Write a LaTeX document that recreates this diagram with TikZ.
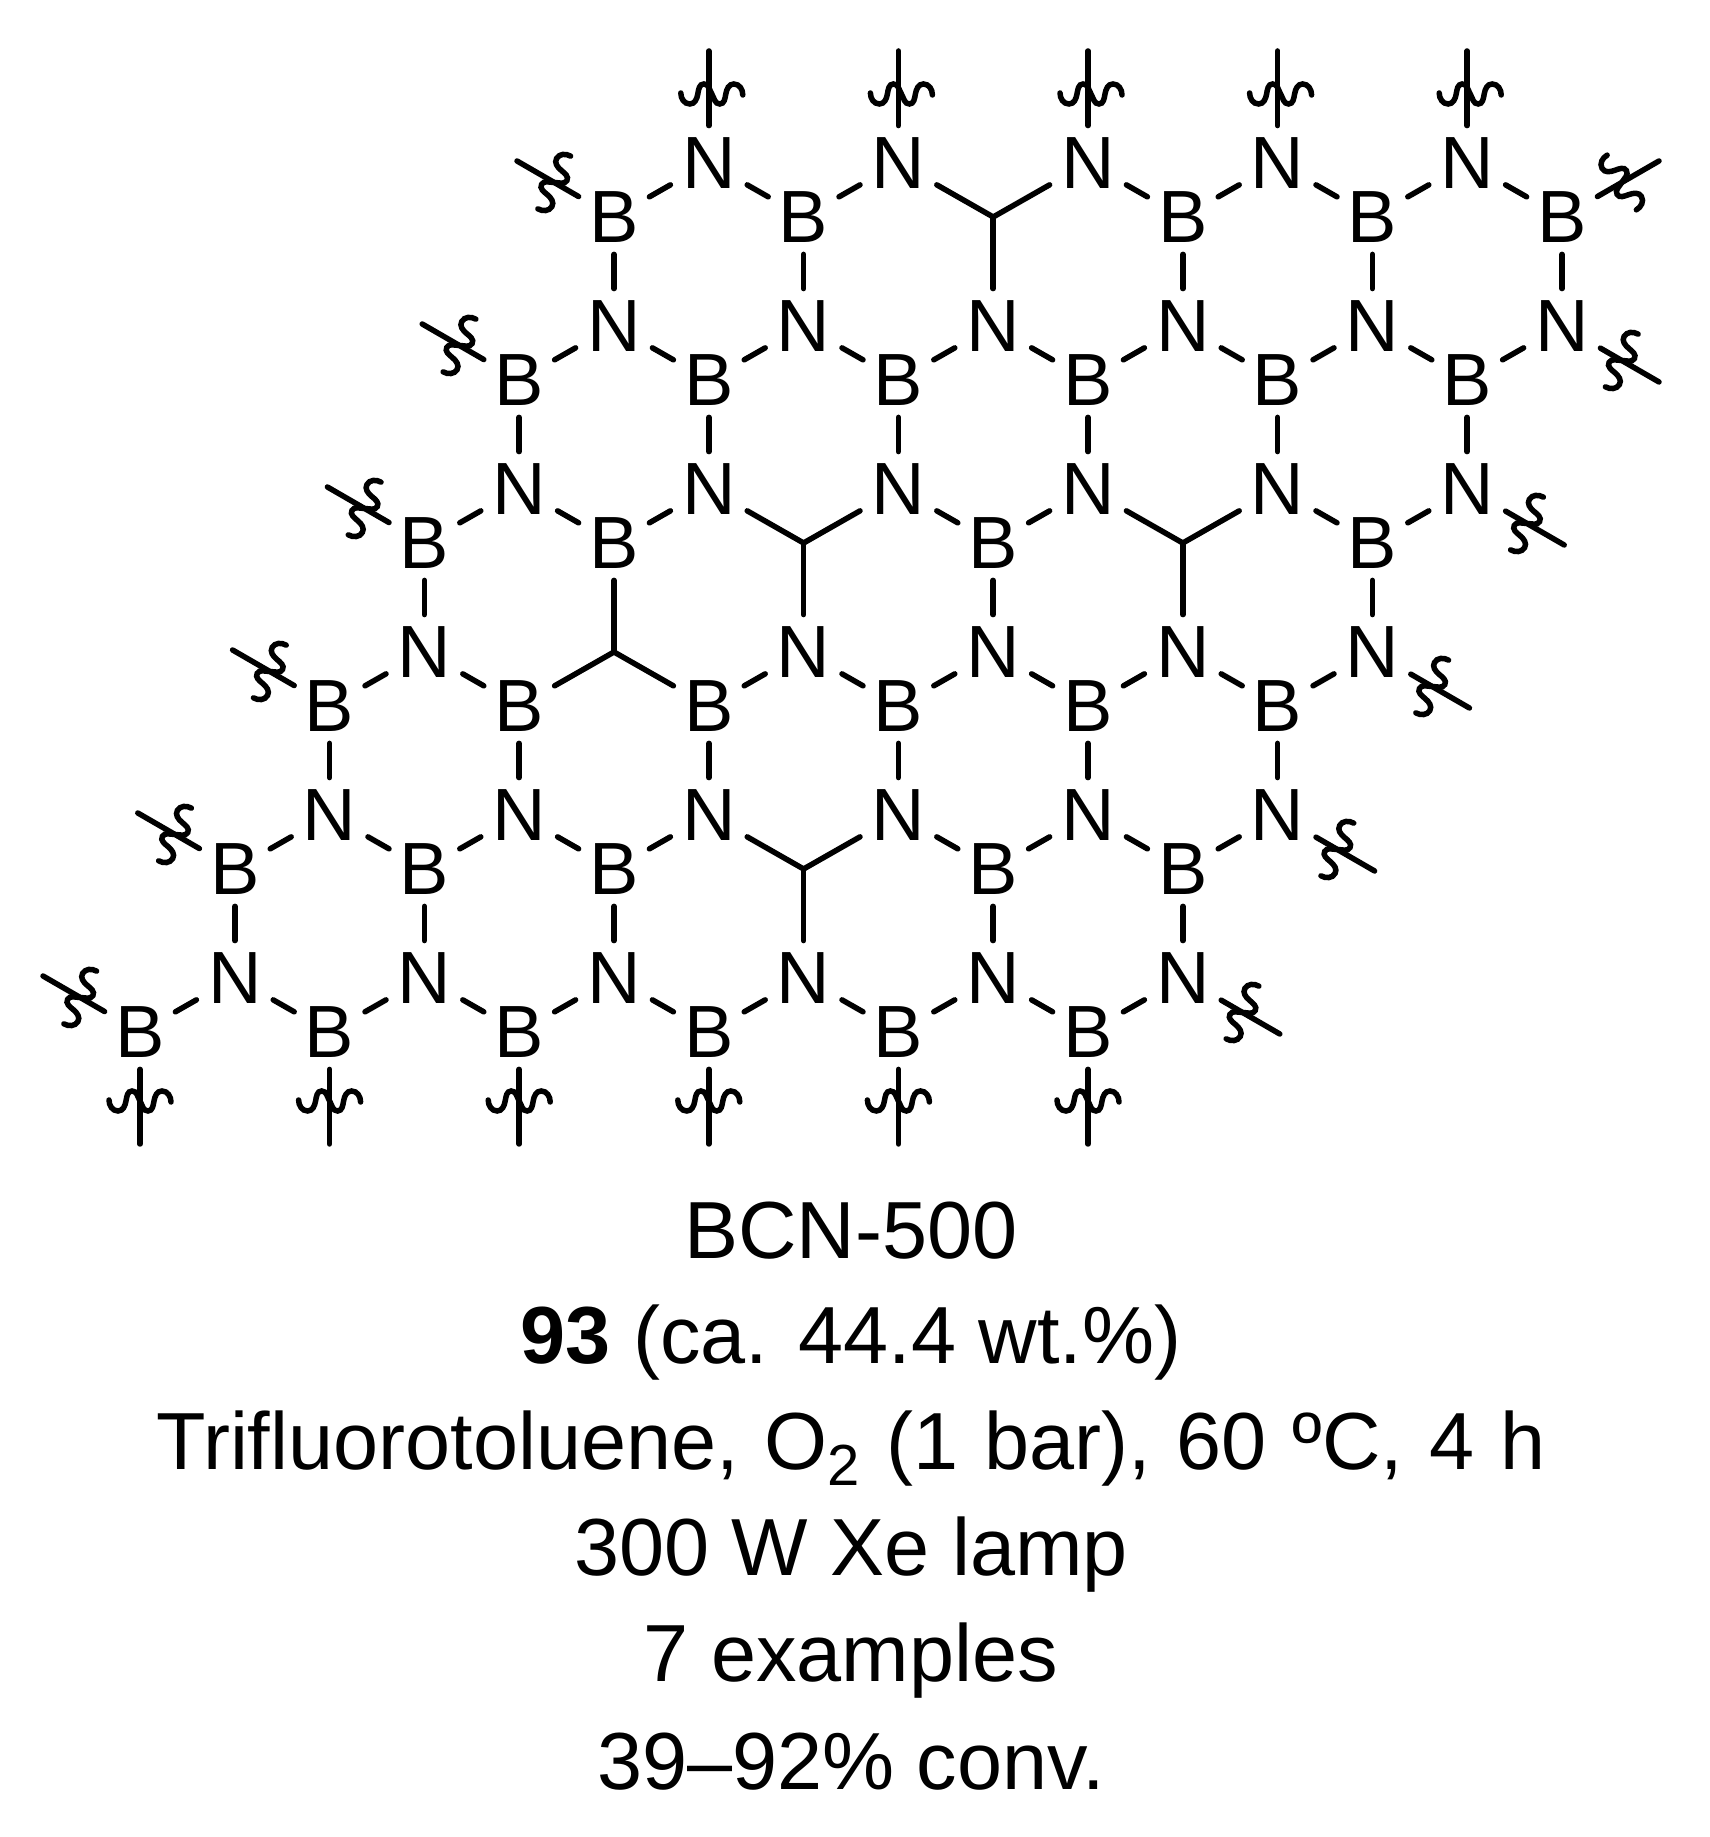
\documentclass[tikz,border=0pt]{standalone}
\usepackage{fontspec}
\setmainfont{Liberation Sans}

\tikzset{
	bond/.style={line width=2.75pt, line cap=round},
	atom/.style={rectangle, inner sep=0pt, minimum height=37pt, font=\fontsize{37}{44}\selectfont},
	atomN/.style={atom, minimum width=38pt},
	atomB/.style={atom, minimum width=35pt},
	caption/.style={anchor=base, inner sep=0pt, font=\fontsize{40.5}{48}\selectfont},
	squiggle/.pic={\draw[bond] (-31,1) to[out=-90,in=180] (-22,-10) to[out=0,in=-100] (-14,0) to[out=80,in=180] (-8,10) to[out=0,in=120] (0,0) to[out=-60,in=180] (8,-10) to[out=0,in=-100] (14,0) to[out=80,in=180] (22,10) to[out=0,in=90] (31,-1);}
}
\newcommand{\colx}[1]{140+94.8*#1}

\begin{document}
\begin{tikzpicture}[x=0.5pt, y=0.5pt]
	\useasboundingbox (0,0) rectangle (1709,1837);
	% N atoms sit on the upper line of a row, B atoms 54 lower
	\foreach \r/\nlist/\blist in {
		1/{6,8,10,12,14}/{5,7,11,13,15},
		2/{5,7,9,11,13,15}/{4,6,8,10,12,14},
		3/{4,6,8,10,12,14}/{3,5,9,13},
		4/{3,7,9,11,13}/{2,4,6,8,10,12},
		5/{2,4,6,8,10,12}/{1,3,5,9,11},
		6/{1,3,5,7,9,11}/{0,2,4,6,8,10}}{
		\foreach \k in \nlist {\path ({\colx{\k}},{1837-163*\r}) node[atomN](n\r-\k){N};}
		\foreach \k in \blist {\path ({\colx{\k}},{1837-163*\r-54}) node[atomB](b\r-\k){B};}
	}
	% Carbon vertices carry no label
	\coordinate (b1-9) at ({\colx{9}},{1837-163-54});
	\coordinate (b3-7) at ({\colx{7}},{1837-489-54});
	\coordinate (b3-11) at ({\colx{11}},{1837-489-54});
	\coordinate (b5-7) at ({\colx{7}},{1837-815-54});
	\coordinate (n4-5) at ({\colx{5}},{1837-652});

	% Ring bonds, row by row
	\foreach \r/\first/\last/\lastright in {1/6/14/14, 2/5/15/13, 3/4/14/12, 4/3/13/11, 5/2/12/10, 6/1/11/9}{
		\pgfmathtruncatemacro{\second}{\first+2}
		\foreach \k in {\first,\second,...,\last}{
			\pgfmathtruncatemacro{\kl}{\k-1}
			\draw[bond] (n\r-\k) -- (b\r-\kl);
		}
		\foreach \k in {\first,\second,...,\lastright}{
			\pgfmathtruncatemacro{\kr}{\k+1}
			\draw[bond] (n\r-\k) -- (b\r-\kr);
		}
		\ifnum\r>1
			\pgfmathtruncatemacro{\rup}{\r-1}
			\foreach \k in {\first,\second,...,\last}{\draw[bond] (b\rup-\k) -- (n\r-\k);}
		\fi
	}

	% Cut bonds at the edge of the sheet
	\foreach \a/\ang/\rot/\off in {
		n1-6/90/0/3, n1-8/90/0/3, n1-10/90/0/3, n1-12/90/0/3, n1-14/90/0/3,
		b6-0/-90/0/0, b6-2/-90/0/0, b6-4/-90/0/0, b6-6/-90/0/0, b6-8/-90/0/0, b6-10/-90/0/0,
		b1-5/150/60/0, b2-4/150/60/0, b3-3/150/60/0, b4-2/150/60/0, b5-1/150/60/0, b6-0/150/60/0,
		n2-15/-30/60/0, n3-14/-30/60/0, n4-13/-30/60/0, n5-12/-30/60/0, n6-11/-30/60/0,
		b1-15/30/-60/0}{
		\path (\a) ++(\ang:112) coordinate (tip-\a-\ang);
		\draw[bond] (\a) -- (tip-\a-\ang);
		\path (\a) ++(\ang:69) ++(\off,0) pic[rotate=\rot] {squiggle};
	}

	\path (851,578) node[caption](line1){BCN-500}
	(851,473) node[caption](line2){\textbf{93} (ca. 44.4 wt.\%)}
	(851,367) node[caption](line3){\spaceskip=13pt Trifluorotoluene, O\raisebox{-8pt}{\fontsize{29}{30}\selectfont 2} (1 bar), 60 ºC, 4 h}
	(851,261) node[caption](line4){300 W Xe lamp}
	(851,155) node[caption](line5){7 examples}
	(851,47) node[caption](line6){39–92\% conv.};
\end{tikzpicture}
\end{document}
